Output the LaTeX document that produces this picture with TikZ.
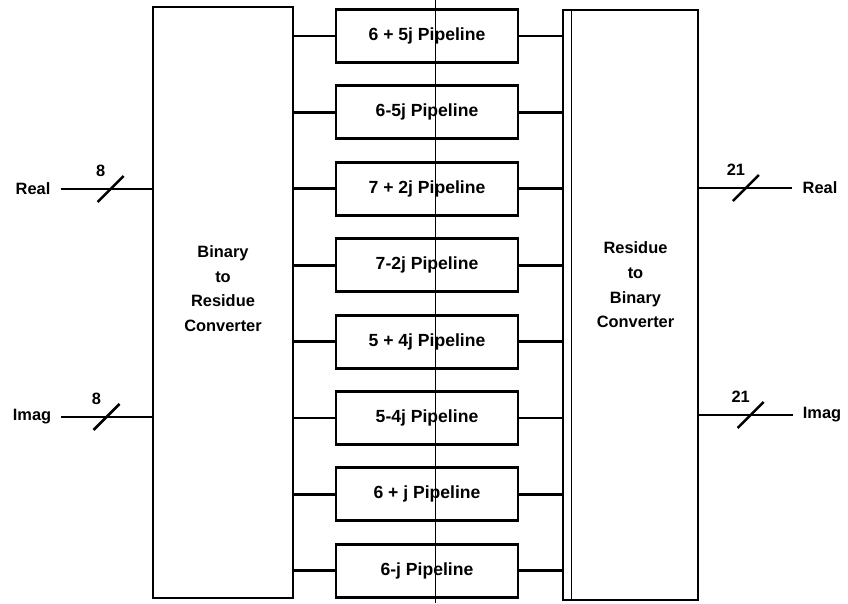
\documentclass[tikz,border=0pt]{standalone}
\usepackage{fontspec}
\setmainfont{Liberation Sans}
\usetikzlibrary{calc,positioning}
\tikzset{
  conv/.style={draw,line width=2.3pt,minimum width=4.2cm,minimum height=17.73cm,inner sep=0pt},
  convtxt/.style={align=center,font=\fontsize{14}{21}\selectfont\bfseries},
  pipe/.style={draw,line width=2.5pt,minimum width=5.46cm,minimum height=1.59cm,font=\fontsize{15}{18}\selectfont\bfseries},
  wire/.style={line width=2.4pt},
  slash/.style={line width=2.2pt},
  io/.style={font=\fontsize{14}{17}\selectfont\bfseries,inner xsep=0.3cm},
  buslbl/.style={font=\fontsize{14}{17}\selectfont\bfseries,inner sep=1pt},
  crease/.style={line width=0.8pt},
}
\begin{document}
\begin{tikzpicture}[x=0.03cm,y=-0.03cm]
  \useasboundingbox (0,0) rectangle (848,603);
  % ---------- converters ----------
  \node[conv] (b2r) at (223,302.5) {};
  \node[convtxt] (b2rtxt) at ($(b2r.center)+(0,-14)$) {Binary\\to\\Residue\\Converter};
  \node[conv,minimum width=4.05cm,minimum height=17.7cm] (r2b) at (630.5,305) {};
  \draw[line width=1pt] ($(r2b.north west)+(10,0)$) -- ($(r2b.south west)+(10,0)$);
  \node[convtxt] (r2btxt) at ($(r2b.center)+(5,-20)$) {Residue\\to\\Binary\\Converter};
  % ---------- pipelines ----------
  \foreach \lbl [count=\i] in {6 + 5j,6-5j,7 + 2j,7-2j,5 + 4j,5-4j,6 + j,6-j}{
    \node[pipe] (pipe\i) at (427,{36+76.4*(\i-1)}) {\lbl\ Pipeline};
    \draw[wire] (pipe\i.west -| b2r.east) -- (pipe\i.west);
    \draw[wire] (pipe\i.east) -- (pipe\i.east -| r2b.west);
  }
  % ---------- inputs ----------
  \node[io] (realin) at (33,189) {Real};
  \node[io] (imagin) at (32,417) {Imag};
  \draw[wire] (realin.east) -- coordinate[pos=.55] (realbus) (realin -| b2r.west);
  \draw[wire] (imagin.east) -- coordinate[pos=.5] (imagbus) (imagin -| b2r.west);
  % ---------- outputs ----------
  \node[io] (realout) at (820,188) {Real};
  \node[io] (imagout) at (822,415) {Imag};
  \draw[wire] (realout -| r2b.east) -- coordinate[pos=.5] (realobus) (realout.west);
  \draw[wire] (imagout -| r2b.east) -- coordinate[pos=.55] (imagobus) (imagout.west);
  % ---------- bus widths ----------
  \foreach \b/\w in {realbus/8,imagbus/8,realobus/21,imagobus/21}{
    \draw[slash] ($(\b)+(-13,13)$) -- ($(\b)+(13,-13)$);
    \node[buslbl] (\b lbl) at ($(\b)+(-10,-18)$) {\w};
  }
  % ---------- crease ----------
  \draw[crease] (435,0) -- (435,603);
\end{tikzpicture}
\end{document}
